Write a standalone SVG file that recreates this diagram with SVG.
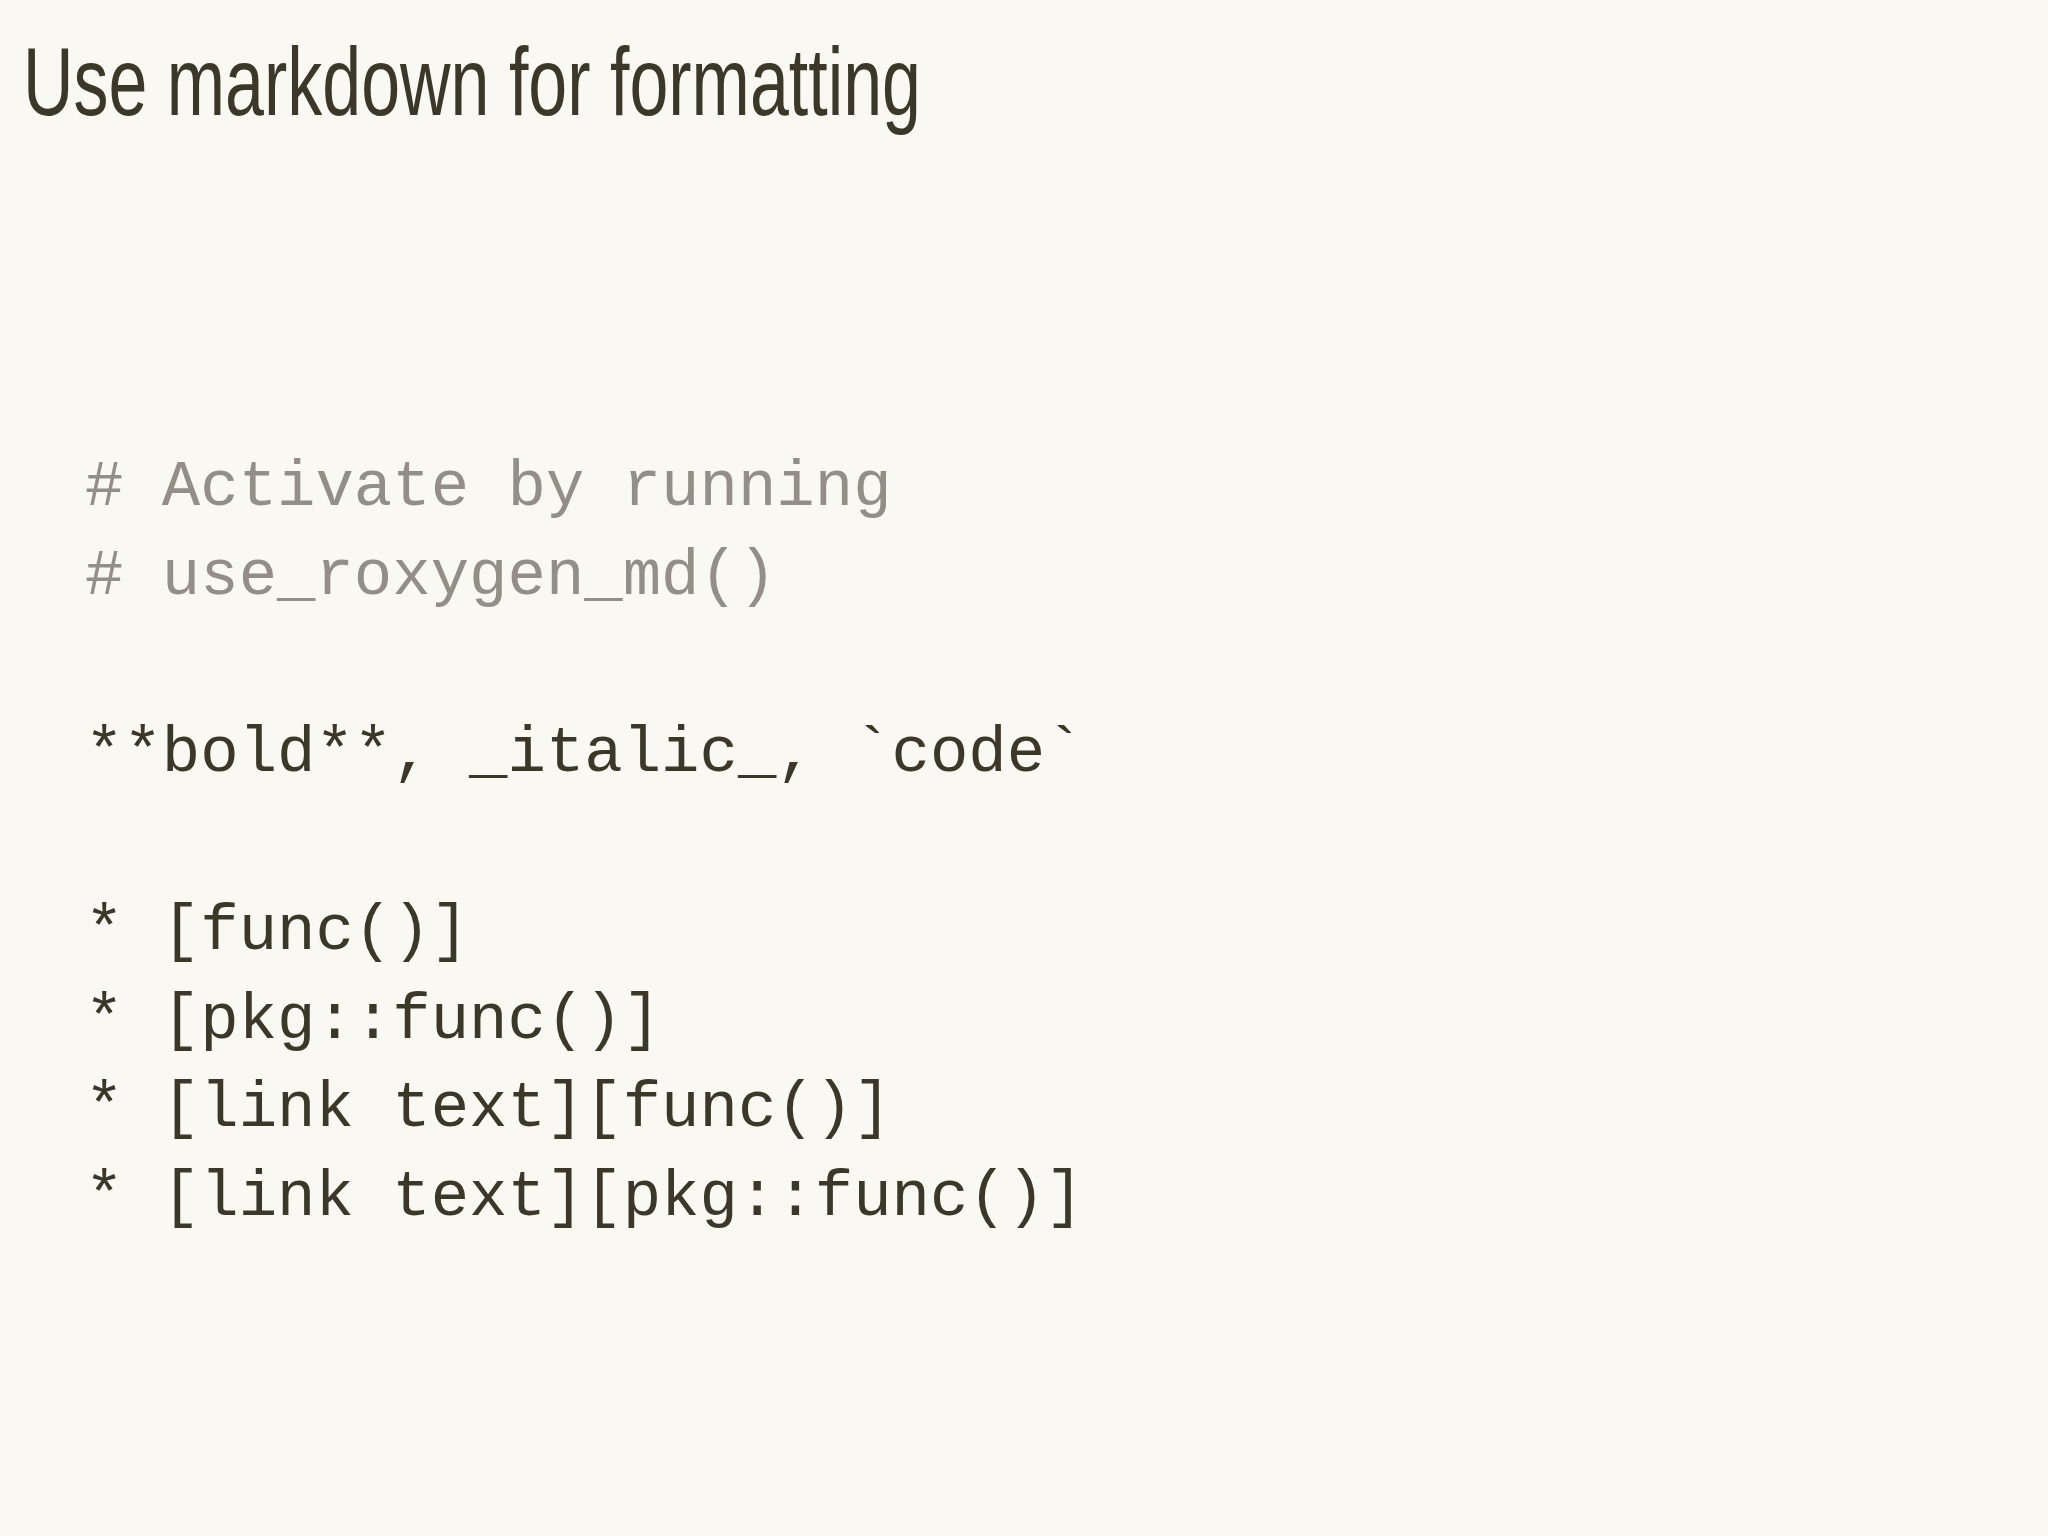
<svg xmlns="http://www.w3.org/2000/svg" width="2048" height="1536" viewBox="0 0 2048 1536">
<style>
.code{font-family:"Liberation Mono","Courier New",monospace;font-size:64px;fill:#3b3729}
.cm{fill:#938e88}
.title{font-family:"Liberation Sans Narrow","Liberation Sans",Arial,sans-serif;font-size:96px;fill:#3b3729}
</style>
<rect width="2048" height="1536" fill="#faf8f2"/>
<text class="title" x="23" y="115" textLength="898" lengthAdjust="spacingAndGlyphs">Use markdown for formatting</text>
<g id="code">
<text class="code cm" x="85" y="505"># Activate by running</text>
<text class="code cm" x="85" y="594"># use_roxygen_md()</text>
<text class="code" x="85" y="771">**bold**, _italic_, `code`</text>
<text class="code" x="85" y="949">* [func()]</text>
<text class="code" x="85" y="1038">* [pkg::func()]</text>
<text class="code" x="85" y="1126">* [link text][func()]</text>
<text class="code" x="85" y="1215">* [link text][pkg::func()]</text>
</g>
</svg>
